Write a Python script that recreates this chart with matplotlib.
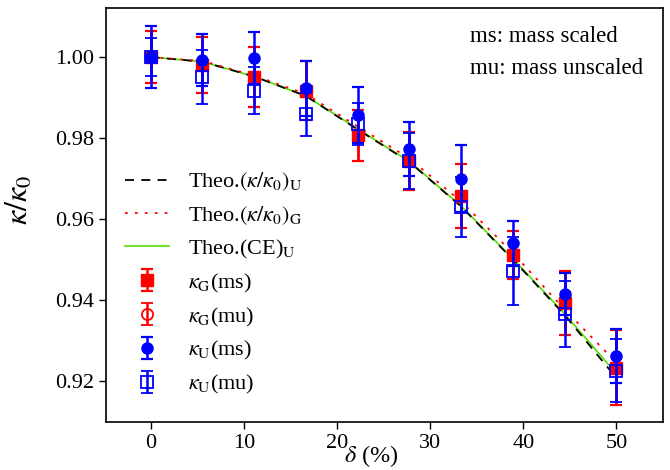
import matplotlib
matplotlib.use("Agg")
import matplotlib.pyplot as plt
import numpy as np

plt.rcParams['font.family'] = ['Liberation Serif', 'DejaVu Serif']
plt.rcParams['mathtext.fontset'] = 'stix'

# ---- data ----
delta = [0, 5.556, 11.111, 16.667, 22.222, 27.778, 33.333, 38.889, 44.444, 50]

theo_U = [1.0000, 0.99884, 0.99519, 0.99037, 0.98210, 0.97407, 0.96309, 0.95000, 0.93630, 0.92074]
theo_G = [1.0000, 0.99901, 0.99543, 0.99086, 0.98284, 0.97494, 0.96432, 0.95160, 0.93765, 0.92457]
theo_CE = [1.0000, 0.99884, 0.99519, 0.99037, 0.98225, 0.97420, 0.96320, 0.95020, 0.93660, 0.92180]

kG_ms = [1.0000, 0.99802, 0.99499, 0.99168, 0.98074, 0.97440, 0.96568, 0.95111, 0.93933, 0.92333]
kG_ms_err = [0.0064, 0.0068, 0.0074, 0.0073, 0.0063, 0.0072, 0.0079, 0.0060, 0.0079, 0.0093]

kG_mu = [1.0000, 0.99802, 0.99499, 0.99168, 0.98074, 0.97440, 0.96568, 0.95111, 0.93933, 0.92333]
kG_mu_err = [0.0064, 0.0068, 0.0074, 0.0073, 0.0063, 0.0072, 0.0079, 0.0060, 0.0079, 0.0093]

kU_ms = [1.0000, 0.99926, 0.99968, 0.99227, 0.98568, 0.97728, 0.96995, 0.95400, 0.94148, 0.92617]
kU_ms_err = [0.0077, 0.0064, 0.0064, 0.0068, 0.0070, 0.0066, 0.0083, 0.0056, 0.0052, 0.0067]

kU_mu = [1.0000, 0.99499, 0.99168, 0.98585, 0.98346, 0.97440, 0.96289, 0.94716, 0.93654, 0.92254]
kU_mu_err = [0.0048, 0.0067, 0.0058, 0.0053, 0.0052, 0.0069, 0.0074, 0.0084, 0.0081, 0.0078]

xticks = [0, 10, 20, 30, 40, 50]
yticks = [0.92, 0.94, 0.96, 0.98, 1.00]

# ---- figure ----
fig = plt.figure(figsize=(6.7, 4.7), dpi=100)
ax = fig.add_axes([106/670, 1-422/470, (663-106)/670, (422-8)/470])

ax.plot(delta, theo_U, color='black', ls=(0, (5, 4)), lw=1.3, label=r'Theo.$(\kappa/\kappa_0)_{\mathrm{U}}$', zorder=2)
ax.plot(delta, theo_G, color='red', ls=(0, (1.5, 4)), lw=1.3, label=r'Theo.$(\kappa/\kappa_0)_{\mathrm{G}}$', zorder=2)
ax.plot(delta, theo_CE, color='#55dd00', ls='-', lw=1.2, label=r'Theo.(CE)$_{\mathrm{U}}$', zorder=1.9)

eb = dict(capsize=4.5, elinewidth=1.8, capthick=1.6, ls='none')
ax.errorbar(delta, kG_ms, yerr=kG_ms_err, fmt='s', color='red', ms=8, label=r'$\kappa_{\mathrm{G}}$(ms)', zorder=3, **eb)
ax.errorbar(delta, kG_mu, yerr=kG_mu_err, fmt='o', color='red', mfc='none', ms=8, mew=1.3, label=r'$\kappa_{\mathrm{G}}$(mu)', zorder=3, **eb)
ax.errorbar(delta, kU_ms, yerr=kU_ms_err, fmt='o', color='blue', ms=8, label=r'$\kappa_{\mathrm{U}}$(ms)', zorder=4, **eb)
ax.errorbar(delta, kU_mu, yerr=kU_mu_err, fmt='s', color='blue', mfc='none', ms=8, mew=1.3, label=r'$\kappa_{\mathrm{U}}$(mu)', zorder=4, **eb)

ax.set_xlim(-4.8, 55)
ax.set_ylim(0.9099, 1.0121)
ax.set_xticks(xticks)
ax.set_yticks(yticks)
ax.set_yticklabels([f'{v:.2f}' for v in yticks])
ax.tick_params(direction='out', length=5, width=1, labelsize=16)
for s in ax.spines.values():
    s.set_linewidth(1.2)

ax.set_xlabel(r'$\delta$ (%)', fontsize=17.5)
ax.xaxis.set_label_coords(0.476, -0.05)
ax.set_ylabel(r'$\kappa/\kappa_0$', fontsize=23)
ax.yaxis.set_label_coords(-0.127, 0.536)

fig.text(470/670, 1-36/470, 'ms: mass scaled', fontsize=16.5, ha='left', va='center')
fig.text(470/670, 1-68/470, 'mu: mass unscaled', fontsize=16.5, ha='left', va='center')

leg = ax.legend(loc='upper left', bbox_to_anchor=(0.0, 0.653), frameon=False, fontsize=16,
                handlelength=2.0, handletextpad=0.85, labelspacing=0.49, borderaxespad=0.45)

fig.savefig('out.png', dpi=100)
